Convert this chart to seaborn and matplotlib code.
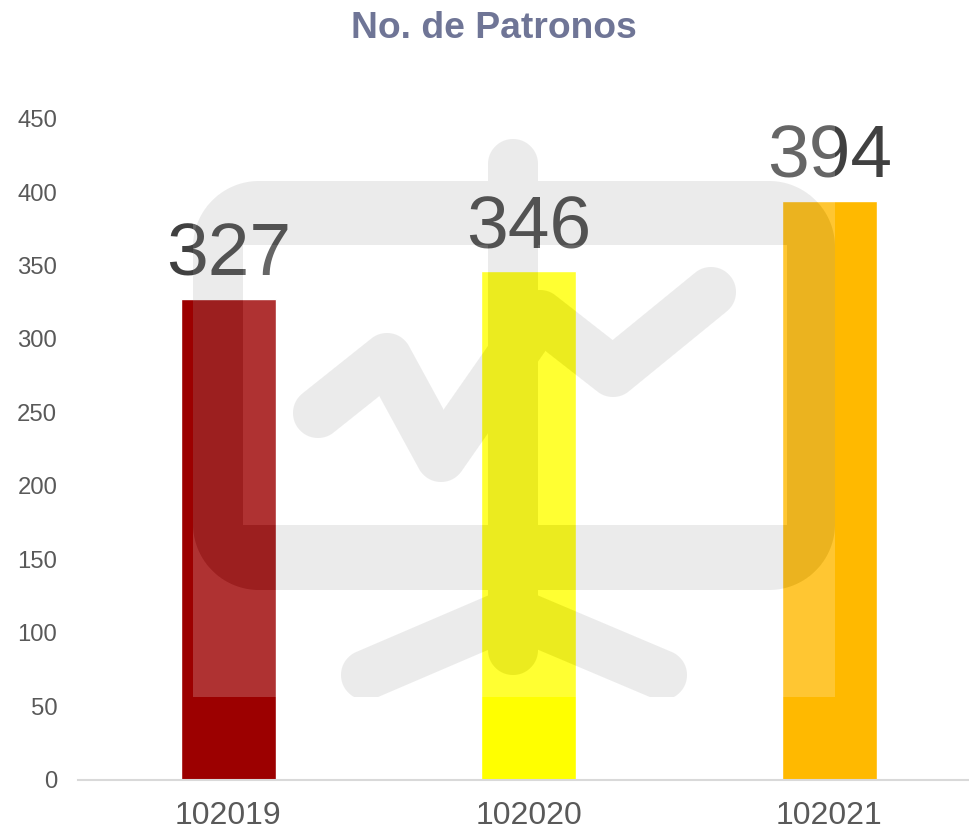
"""No. de Patronos: bars per period, with the gray chart-icon watermark laid on top."""

import numpy as np
import pandas as pd
import seaborn as sns
import matplotlib.pyplot as plt

periodos = ['102019', '102020', '102021']
patronos = [327, 346, 394]
colores = ['#9C0000', '#FFFF00', '#FFB900']
yticks = [0, 50, 100, 150, 200, 250, 300, 350, 400, 450]

sns.set_theme(style='white')
plt.rcParams['font.family'] = ['Liberation Sans', 'DejaVu Sans']

W, H = 969, 833
fig = plt.figure(figsize=(W / 100, H / 100), dpi=100, facecolor='white')
ax = fig.add_axes([78 / W, 1 - 779.7 / H, 1 - 78 / W, (779.7 - 118.6) / H])

df = pd.DataFrame({'periodo': periodos, 'patronos': patronos})
sns.barplot(data=df, x='periodo', y='patronos', hue='periodo', palette=colores,
            width=0.316, saturation=1, legend=False, ax=ax)

ax.set_xlim(-0.5, (W - 228.5) / 300.5)
ax.set_ylim(0, 450)
ax.set_yticks(yticks)
ax.set_xlabel('')
ax.set_ylabel('')
sns.despine(ax=ax, left=True)
ax.spines['bottom'].set_color('#D9D9D9')
ax.spines['bottom'].set_linewidth(1.5)
ax.tick_params(axis='y', length=0, pad=15, labelsize=17.2, labelcolor='#595959')
ax.tick_params(axis='x', length=0, pad=15, labelsize=23, labelcolor='#595959')

for cont in ax.containers:
    ax.bar_label(cont, fontsize=54, color='#404040', padding=6)

fig.text(493.5 / W, 1 - 28 / H, 'No. de Patronos', ha='center', va='center',
         fontsize=26.8, fontweight='bold', color='#6F7596')

# Watermark picture: white veil at 20%, icon parts in gray at 20%
x0, y0, size = 193, 55, 642
yy, xx = np.mgrid[y0:y0 + size, x0:x0 + size] + 0.5


def cover(d):
    return np.clip(0.5 - d, 0, 1)


def stroke(points, half=25):
    dist = np.full(xx.shape, np.inf)
    for (ax_, ay), (bx, by) in zip(points[:-1], points[1:]):
        dx, dy = bx - ax_, by - ay
        t = np.clip(((xx - ax_) * dx + (yy - ay) * dy) / (dx * dx + dy * dy), 0, 1)
        dist = np.minimum(dist, np.hypot(xx - ax_ - t * dx, yy - ay - t * dy))
    return cover(dist - half)


def round_box(left, top, right, bottom, r):
    cx, cy = (left + right) / 2, (top + bottom) / 2
    qx = np.abs(xx - cx) - (right - left) / 2 + r
    qy = np.abs(yy - cy) - (bottom - top) / 2 + r
    return cover(np.hypot(np.maximum(qx, 0), np.maximum(qy, 0)) + np.minimum(np.maximum(qx, qy), 0) - r)


frame = round_box(193, 181, 835, 590, 66) * (1 - round_box(243, 245, 787, 525, 0.01))
mask = frame
for line in [
    [(513, 164), (513, 650)],
    [(366, 675), (513, 612), (662, 675)],
    [(318, 413), (387, 358), (441, 457), (540, 315), (613, 372), (711, 292)],
]:
    mask = np.maximum(mask, stroke(line))

rgba = np.zeros((size, size, 4))
rgba[..., :3] = (1 - mask[..., None]) * 1.0 + mask[..., None] * (0x9C / 255)
rgba[..., 3] = 0.2
fig.figimage(rgba, xo=x0, yo=H - (y0 + size), origin='upper', zorder=5)

fig.savefig('out.png', dpi=100)
